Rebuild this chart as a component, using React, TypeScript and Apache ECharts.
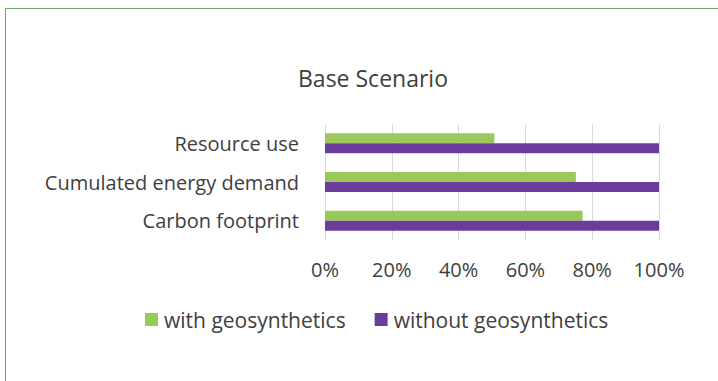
import React, { useEffect, useRef } from "react";
import * as echarts from "echarts";

const categories = ["Resource use", "Cumulated energy demand", "Carbon footprint"];
const withGeo = [50.7, 75.1, 77.1];
const withoutGeo = [100, 100, 100];
const seriesNames = ["with geosynthetics", "without geosynthetics"];
const xTicks = [0, 20, 40, 60, 80, 100];

const FONT = "Open Sans";
const TEXT = "#404040";

export default function App() {
  const ref = useRef<HTMLDivElement>(null);
  useEffect(() => {
    const chart = echarts.init(ref.current!, null, { renderer: "svg" });
    chart.setOption({
      animation: false,
      backgroundColor: "#ffffff",
      title: {
        text: "Base Scenario",
        left: 368,
        top: 61,
        textAlign: "center",
        textStyle: { fontFamily: FONT, fontSize: 23, fontWeight: "normal", color: TEXT },
      },
      graphic: [
        {
          type: "rect",
          shape: { x: 5.5, y: 8.5, width: 800, height: 500 },
          style: { fill: "none", stroke: "#6aa86a", lineWidth: 1 },
          silent: true,
        },
      ],
      legend: {
        top: 304,
        left: 140,
        itemWidth: 13,
        itemHeight: 13,
        itemGap: 29,
        icon: "rect",
        textStyle: { fontFamily: FONT, fontSize: 21, color: TEXT, padding: [0, 0, 0, 1] },
        data: seriesNames,
      },
      grid: { left: 325, right: 59, top: 124, bottom: 141, containLabel: false },
      xAxis: {
        type: "value",
        min: 0,
        max: 100,
        interval: 20,
        axisLine: { show: false },
        axisTick: { show: false },
        splitLine: { show: true, lineStyle: { color: "#d9d9d9", width: 1 } },
        axisLabel: {
          margin: 19,
          fontFamily: FONT,
          fontSize: 20,
          color: TEXT,
          formatter: (v: number) => (xTicks.includes(v) ? v + "%" : ""),
        },
      },
      yAxis: {
        type: "category",
        data: categories,
        inverse: true,
        axisLine: { show: false },
        axisTick: { show: false },
        splitLine: { show: false },
        axisLabel: { margin: 26, fontFamily: FONT, fontSize: 20, color: TEXT },
      },
      series: [
        {
          name: seriesNames[0],
          type: "bar",
          data: withGeo,
          barWidth: 10,
          barGap: "0%",
          itemStyle: { color: "#9bc85a" },
        },
        {
          name: seriesNames[1],
          type: "bar",
          data: withoutGeo,
          barWidth: 10,
          barGap: "0%",
          itemStyle: { color: "#6a3c9c" },
        },
      ],
    });
    return () => chart.dispose();
  }, []);
  return (
    <div
      ref={ref}
      style={{ position: "absolute", left: 0, top: 0, width: 718, height: 381 }}
    />
  );
}
